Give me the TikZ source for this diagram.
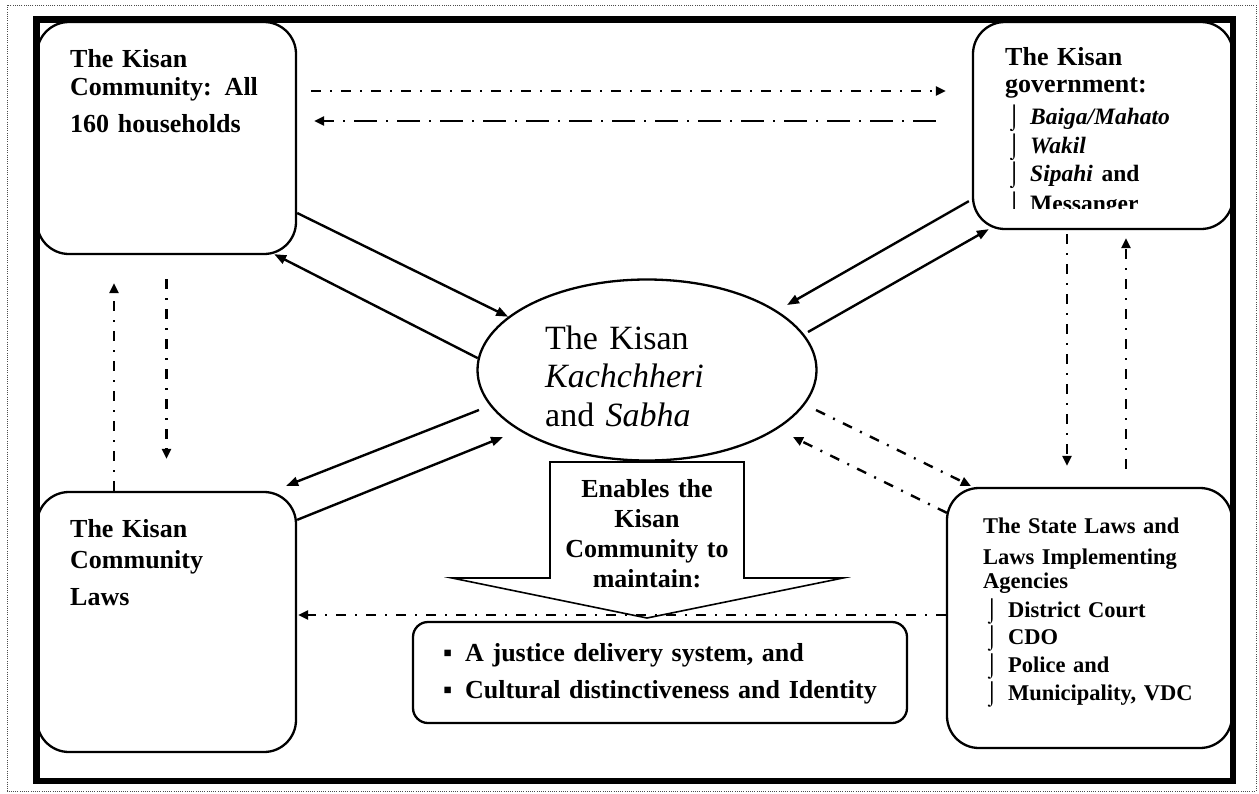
\documentclass[tikz,border=0pt]{standalone}
\usepackage{fontspec}
\setmainfont{Liberation Serif}
\usepackage{tikz}
\usetikzlibrary{arrows.meta,calc,positioning,shapes.geometric}

% list marks as the picture prints them
\newcommand{\listhook}{\makebox[25pt][l]{\hspace{2pt}\mdseries\upshape ⌡}}
\newcommand{\tritem}[1]{{\fontsize{23.5}{28}\selectfont\listhook #1}}
\newcommand{\sqitem}{\makebox[22pt][l]{▪}}

\begin{document}
\begin{tikzpicture}[
    x=1pt, y=-1pt,
    frame/.style={draw=black, line width=6.5pt},
    outline/.style={draw=black!70, line width=1pt, dash pattern=on 1pt off 1.2pt},
    bigbox/.style={draw=black, line width=2.3pt, rounded corners=32pt, inner sep=0pt},
    boxtext/.style={anchor=base west, inner sep=0pt, text width=230pt, align=left, font=\fontsize{26}{28}\selectfont\bfseries},
    link/.style={line width=2.4pt, -{Triangle[length=12pt,width=9pt]}},
    dashlink/.style={line width=2.4pt, dash pattern=on 10pt off 9pt on 2pt off 9pt, -{Triangle[length=10pt,width=9pt]}},
    longdash/.style={line width=2.4pt, dash pattern=on 23pt off 9pt on 2pt off 9pt, -{Triangle[length=10pt,width=9pt]}}
]
    \useasboundingbox (0,0) rectangle (1259,793);

    % --- page frames ---
    \draw[outline] (7,5) rectangle (1256,791);
    \draw[frame] (36.5,19.5) rectangle (1233,781);

    % --- boxes ---
    \node[bigbox, minimum width=259pt, minimum height=232pt] (tl) at (166.5,138) {};
    \node[bigbox, minimum width=260pt, minimum height=207pt] (tr) at (1103,125.5) {};
    \node[bigbox, minimum width=259pt, minimum height=260pt] (bl) at (166.5,622) {};
    \node[bigbox, minimum width=285pt, minimum height=260pt] (br) at (1089.5,618) {};
    \node[bigbox, rounded corners=15pt, minimum width=494pt, minimum height=101pt] (maint) at (660,672.5) {};
    \node[ellipse, draw=black, line width=2.3pt, minimum width=339pt, minimum height=181pt, inner sep=0pt] (kach) at (647,370) {};

    % --- box texts ---
    \node[boxtext] (tltext) at (70,67) {The Kisan\\Community: All\\[9pt]160 households};
    \node[boxtext] (bltext) at (70,537) {The Kisan\\[3pt]Community\\[9pt]Laws};
    \begin{scope}
        \clip (973,22) rectangle (1233,208);
        \node[boxtext] (trtext) at (1005,65) {The Kisan\\[-1pt]government:\\[4pt]
            \tritem{\textit{Baiga/Mahato}}\\[1pt]
            \tritem{\textit{Wakil}}\\
            \tritem{\textit{Sipahi} and}\\[2pt]
            \tritem{Messanger}};
    \end{scope}
    \node[boxtext, font=\fontsize{22.5}{28}\selectfont\bfseries] (brtext) at (983,533) {The State Laws and\\[3pt]Laws Implementing\\[-4pt]Agencies\\[1pt]
        \listhook District Court\\[-1pt]
        \listhook CDO\\
        \listhook Police and\\
        \listhook Municipality, VDC};

    % --- centre ---
    \node[anchor=base west, inner sep=0pt, text width=200pt, align=left, font=\fontsize{34}{38.5}\selectfont] (kachtext) at (545,349) {The Kisan\\\textit{Kachchheri}\\and \textit{Sabha}};

    % block arrow
    \draw[line width=1.6pt, line join=miter] (550,462) -- (744,462) -- (744,578) -- (843,578) -- (647,618) -- (452,578) -- (550,578) -- cycle;
    \node[anchor=base, inner sep=0pt, text width=200pt, align=center, font=\fontsize{26}{30}\selectfont\bfseries] (enable) at (647,497) {Enables the\\Kisan\\Community to\\maintain:};

    \node[boxtext, text width=460pt, font=\fontsize{26}{37}\selectfont\bfseries] (mainttext) at (443,661) {\sqitem A justice delivery system, and\\\sqitem Cultural distinctiveness and Identity};

    % --- solid links ---
    \draw[link] ($(tl.east)+(0,75)$) -- (kach.159);
    \draw[link] (kach.176) -- ($(tl.south east)+(-23,-1)$);
    \draw[link] ($(tr.south west)+(-3,-29)$) -- ($(kach.center)+(140,-65)$);
    \draw[link] ($(kach.center)+(161,-38)$) -- ($(tr.south west)+(17,-1)$);
    \draw[link] ($(kach.center)+(-168,40)$) -- ($(bl.north east)+(-11,-5)$);
    \draw[link] ($(bl.north east)+(0,29)$) -- ($(kach.center)+(-144,67)$);

    % --- dash-dot links ---
    \draw[dashlink] ($(kach.center)+(169,40)$) -- ($(br.north west)+(25,-1)$);
    \draw[dashlink] ($(br.north west)+(1,26)$) -- ($(kach.center)+(146,67)$);
    \draw[dashlink] ($(bl.north)+(-52.5,0)$) -- ($(tl.south)+(-52.5,28)$);
    \draw[dashlink] ($(tl.south)+(0,24)$) -- ($(bl.north)+(0,-32)$);
    \draw[dashlink] ($(tr.south)+(-36,4)$) -- ($(br.north)+(-22.5,-21)$);
    \draw[dashlink] ($(br.north)+(36.5,-18)$) -- ($(tr.south)+(23,8)$);
    \draw[dashlink] ($(tl.east)+(14,-47)$) -- ($(tr.west)+(-26,-34.5)$);
    \draw[longdash] ($(tr.west)+(-36,-4.5)$) -- ($(tl.east)+(17,-17)$);
    \draw[dashlink] ($(br.west)+(0,-3)$) -- ($(bl.east)+(1,-7)$);

\end{tikzpicture}
\end{document}
